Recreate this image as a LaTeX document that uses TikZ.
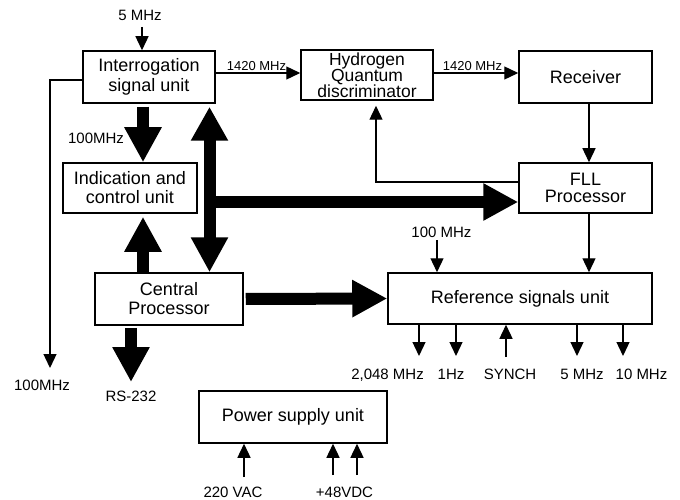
\documentclass[tikz,border=0pt]{standalone}
\usepackage{fontspec}
\setmainfont{Liberation Sans}
\usetikzlibrary{arrows.meta}
\tikzset{
 box/.style={draw, line width=1.5pt, inner sep=0pt, align=center, font={\fontsize{18}{20}\selectfont\lineskiplimit=-20pt}},
 lbl/.style={inner sep=0pt, font=\fontsize{15}{17}\selectfont},
 slbl/.style={inner sep=0pt, font=\fontsize{13}{15}\selectfont},
 arr/.style={line width=1.3pt, -{Triangle[width=13pt,length=14pt]}},
 bigarr/.style={line width=12pt, -{Triangle[width=35pt,length=35pt]}},
 bigdbl/.style={line width=12pt, {Triangle[width=35pt,length=34pt]}-{Triangle[width=35pt,length=35pt]}},
}
\begin{document}
\begin{tikzpicture}[x=1pt,y=-1pt]
\useasboundingbox (0,0) rectangle (680,500);
% boxes
\node[box, minimum width=132pt, minimum height=52pt] (isu) at (149,77) {Interrogation\\signal unit};
\node[box, minimum width=132pt, minimum height=50pt, font={\fontsize{17.5}{15.8}\selectfont\lineskiplimit=-20pt}] (hqd) at (367,75) {Hydrogen\\Quantum\\discriminator};
\node[box, minimum width=133pt, minimum height=52pt] (rcv) at (585.5,77) {Receiver};
\node[box, minimum width=133pt, minimum height=50pt, font={\fontsize{18}{17.5}\selectfont\lineskiplimit=-20pt}] (fll) at (585.5,188) {FLL\\Processor};
\node[box, minimum width=134pt, minimum height=50pt, font={\fontsize{18}{19}\selectfont\lineskiplimit=-20pt}] (icu) at (130,188) {Indication and\\control unit};
\node[box, minimum width=148pt, minimum height=52pt, font={\fontsize{18}{19}\selectfont\lineskiplimit=-20pt}] (cp) at (169,299) {Central\\Processor};
\node[box, minimum width=264pt, minimum height=51pt] (rsu) at (520,298.5) {Reference signals unit};
\node[box, minimum width=188pt, minimum height=52pt] (psu) at (293,417) {Power supply unit};
% labels
\node[lbl, anchor=base] (l5) at (140,21) {5 MHz};
\node[slbl, anchor=base] (l1420a) at (256.5,71) {1420 MHz};
\node[slbl, anchor=base] (l1420b) at (472.5,71) {1420 MHz};
\node[lbl, anchor=base] (l100a) at (96,143) {100MHz};
\node[lbl, anchor=base] (l100b) at (42,390) {100MHz};
\node[lbl, anchor=base] (lrs) at (131,401) {RS-232};
\node[lbl, anchor=base] (l100c) at (441.5,237) {100 MHz};
\node[lbl, anchor=base east] (o1l) at (424,379) {2,048 MHz};
\node[lbl, anchor=base] (o2l) at (451,379) {1Hz};
\node[lbl, anchor=base] (o3l) at (510,379) {SYNCH};
\node[lbl, anchor=base] (o4l) at (582,379) {5 MHz};
\node[lbl, anchor=base] (o5l) at (641.5,379) {10 MHz};
\node[lbl, anchor=base] (p1l) at (233,497) {220 VAC};
\node[lbl, anchor=base] (p2l) at (344.5,497) {+48VDC};
% helper coordinates
\coordinate (a5) at (142,27);
\coordinate (lend) at (50,368);
\coordinate (hx) at (376,0);
\coordinate (rx) at (589,0);
\coordinate (m100) at (437,240);
\coordinate (cx) at (143,0);
\coordinate (vb) at (209.5,0);
\coordinate (bus) at (204,202);
\coordinate (rsx) at (131,382);
\coordinate (o1) at (419,356);
\coordinate (o2) at (456,356);
\coordinate (o3) at (506,357);
\coordinate (o4) at (577,356);
\coordinate (o5) at (623,356);
\coordinate (p1) at (244,477);
\coordinate (p2) at (333,475);
\coordinate (p3) at (357,475);
% thin connectors
\draw[arr] (a5) -- (a5 |- isu.north);
\draw[arr] ([yshift=4pt]isu.east) -- ([yshift=4pt]isu.east -| hqd.west);
\draw[arr] ([yshift=2pt]hqd.east) -- ([yshift=2pt]hqd.east -| rcv.west);
\draw[arr] (rx |- rcv.south) -- (rx |- fll.north);
\draw[arr, shorten >=5pt] ([yshift=6pt]fll.west) -| (hx |- hqd.south);
\draw[arr] ([yshift=-3pt]isu.west) -| (lend);
\draw[arr] (m100) -- (m100 |- rsu.north);
\draw[arr] (rx |- fll.south) -- (rx |- rsu.north);
\draw[arr] (o1 |- rsu.south) -- (o1);
\draw[arr] (o2 |- rsu.south) -- (o2);
\draw[arr] (o3) -- (o3 |- rsu.south);
\draw[arr] (o4 |- rsu.south) -- (o4);
\draw[arr] (o5 |- rsu.south) -- (o5);
\draw[arr] (p1) -- (p1 |- psu.south);
\draw[arr] (p2) -- (p2 |- psu.south);
\draw[arr] (p3) -- (p3 |- psu.south);
% thick connectors
\draw[bigarr, shorten <=3pt] (cx |- isu.south) -- (cx |- icu.north);
\draw[bigarr, shorten >=3pt] (cx |- cp.north) -- (cx |- icu.south);
\draw[bigdbl, shorten <=3pt] (vb |- isu.south) -- (vb |- cp.north);
\draw[bigarr] (bus) -- (bus -| fll.west);
\draw[bigarr, shorten <=2pt] (cp.east) -- (rsu.west);
\draw[bigarr, shorten <=2pt] (rsx |- cp.south) -- (rsx);
\end{tikzpicture}
\end{document}
